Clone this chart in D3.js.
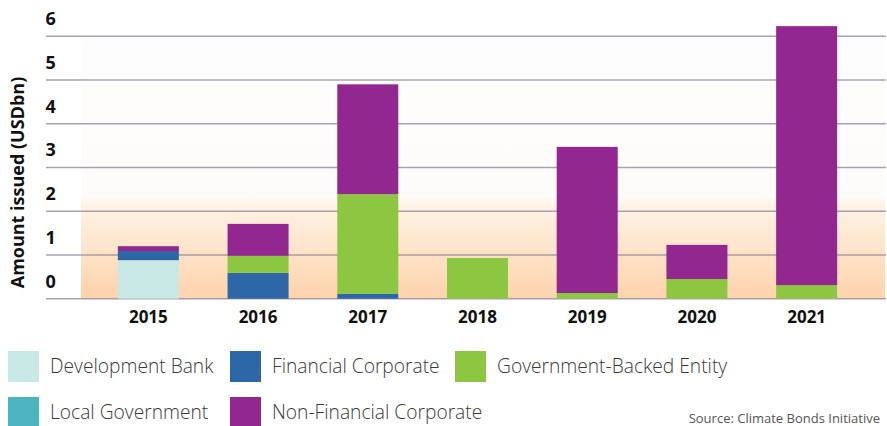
<!DOCTYPE html>
<html>
<head>
<meta charset="utf-8">
<script src="https://cdn.jsdelivr.net/npm/d3@7"></script>
<style>
  html, body { margin: 0; padding: 0; background: #ffffff; }
  svg { display: block; }
  text { font-family: "Open Sans", "Noto Sans", sans-serif; }
</style>
</head>
<body>
<svg id="chart" width="887" height="426"></svg>
<script>
// Green bond issuance by issuer type (USD bn)
const years = ["2015", "2016", "2017", "2018", "2019", "2020", "2021"];
const seriesNames = ["Development Bank", "Financial Corporate", "Government-Backed Entity", "Local Government", "Non-Financial Corporate"];
const seriesColors = ["#c8e8e6", "#2e67a7", "#8dc641", "#4cb4c0", "#92278f"];

const developmentBank   = [0.88, 0,    0,    0,    0,    0,    0];
const financialCorp     = [0.21, 0.59, 0.11, 0,    0,    0,    0];
const governmentBacked  = [0,    0.39, 2.28, 0.93, 0.13, 0.45, 0.31];
const localGovernment   = [0,    0,    0,    0,    0,    0,    0];
const nonFinancialCorp  = [0.11, 0.73, 2.51, 0,    3.34, 0.78, 5.92];

const yTicks = [0, 1, 2, 3, 4, 5, 6];
const sourceNote = "Source: Climate Bonds Initiative";
const yTitle = "Amount issued (USDbn)";

const seriesValues = [developmentBank, financialCorp, governmentBacked, localGovernment, nonFinancialCorp];
const rows = years.map((yr, i) => {
  const r = { year: yr };
  seriesNames.forEach((s, k) => { r[s] = seriesValues[k][i]; });
  return r;
});
// stacking order from the bottom of each bar
const stackOrder = ["Development Bank", "Financial Corporate", "Government-Backed Entity", "Local Government", "Non-Financial Corporate"];
const stacked = d3.stack().keys(stackOrder)(rows);
const color = d3.scaleOrdinal().domain(seriesNames).range(seriesColors);

const svg = d3.select("#chart");

const x = d3.scaleBand().domain(years).range([93.5, 861.5]).paddingInner(0.444).paddingOuter(0.222);
const y = d3.scaleLinear().domain([0, 6]).range([298.7, 36.2]);

// plot background with warm glow near the baseline
const defs = svg.append("defs");
const grad = defs.append("linearGradient").attr("id", "glow").attr("x1", 0).attr("y1", 0).attr("x2", 0).attr("y2", 1);
grad.append("stop").attr("offset", "0%").attr("stop-color", "#fdfdfd");
grad.append("stop").attr("offset", "61%").attr("stop-color", "#fefcfa");
grad.append("stop").attr("offset", "64%").attr("stop-color", "#fff3e6");
grad.append("stop").attr("offset", "100%").attr("stop-color", "#fdd3ab");

svg.append("rect")
  .attr("x", 81).attr("y", y(6))
  .attr("width", 885 - 81).attr("height", y(0) - y(6))
  .attr("fill", "url(#glow)");

// gridlines
svg.append("g")
  .selectAll("line")
  .data(yTicks)
  .join("line")
  .attr("x1", 46).attr("x2", 886)
  .attr("y1", d => y(d)).attr("y2", d => y(d))
  .attr("stroke", "#8a8798")
  .attr("stroke-opacity", 0.75)
  .attr("stroke-width", 1.6);

// y tick labels sit above their gridline
svg.append("g")
  .selectAll("text")
  .data(yTicks)
  .join("text")
  .attr("x", 45.5)
  .attr("y", d => y(d) - 11)
  .attr("font-size", 18)
  .attr("font-weight", 700)
  .attr("fill", "#111")
  .text(d => d);

// stacked bars
svg.append("g")
  .selectAll("g")
  .data(stacked)
  .join("g")
  .attr("fill", d => color(d.key))
  .selectAll("rect")
  .data(d => d)
  .join("rect")
  .attr("x", d => x(d.data.year))
  .attr("width", x.bandwidth())
  .attr("y", d => y(d[1]))
  .attr("height", d => y(d[0]) - y(d[1]));

// year axis
const xAxis = svg.append("g")
  .attr("transform", `translate(0,${y(0)})`)
  .call(d3.axisBottom(x).tickSize(0).tickPadding(12));
xAxis.select(".domain").remove();
xAxis.selectAll("text")
  .attr("font-size", 17)
  .attr("font-weight", 700)
  .attr("fill", "#111")
  .style("font-family", "'Open Sans', sans-serif");

// y axis title
svg.append("text")
  .attr("transform", "translate(24,182.5) rotate(-90)")
  .attr("text-anchor", "middle")
  .attr("font-size", 18)
  .attr("font-weight", 700)
  .attr("fill", "#111")
  .text(yTitle);

// legend
const legendPos = [
  { name: "Development Bank", x: 8, y: 351 },
  { name: "Financial Corporate", x: 230, y: 351 },
  { name: "Government-Backed Entity", x: 455, y: 351 },
  { name: "Local Government", x: 8, y: 397 },
  { name: "Non-Financial Corporate", x: 230, y: 397 }
];
const legend = svg.append("g")
  .selectAll("g")
  .data(legendPos)
  .join("g")
  .attr("transform", d => `translate(${d.x},${d.y})`);
legend.append("rect")
  .attr("width", 31).attr("height", 31)
  .attr("fill", d => color(d.name));
legend.append("text")
  .attr("x", 42).attr("y", 15.5)
  .attr("dy", "0.35em")
  .attr("font-size", 19.2)
  .attr("font-weight", 300)
  .attr("fill", "#3a3a3a")
  .text(d => d.name);

// source note
svg.append("text")
  .attr("x", 880).attr("y", 423)
  .attr("text-anchor", "end")
  .attr("font-size", 13)
  .attr("fill", "#555")
  .text(sourceNote);
</script>
</body>
</html>
